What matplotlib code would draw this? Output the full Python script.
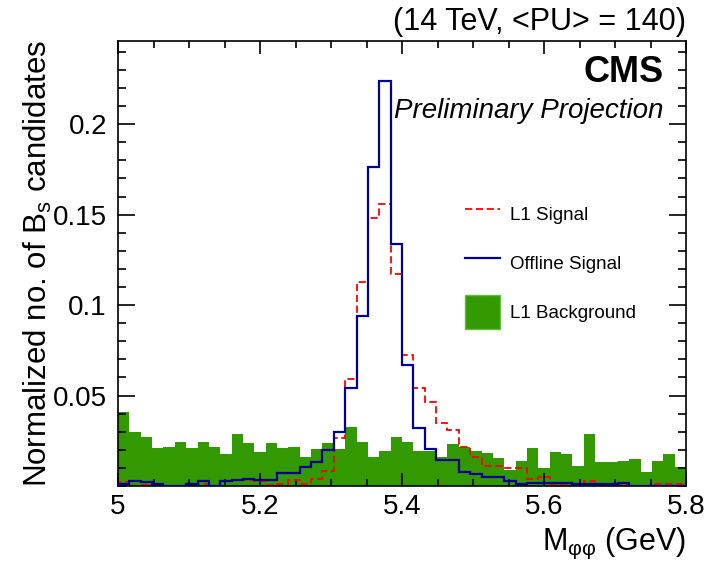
import matplotlib

matplotlib.use('Agg')
import matplotlib.pyplot as plt
from matplotlib.ticker import MultipleLocator
from matplotlib.patches import Patch
from matplotlib.lines import Line2D
import numpy as np

plt.rcParams['font.family'] = ['Liberation Sans', 'DejaVu Sans']
plt.rcParams['mathtext.fontset'] = 'custom'
plt.rcParams['mathtext.rm'] = 'Liberation Sans'
plt.rcParams['mathtext.it'] = 'Liberation Sans:italic'
plt.rcParams['mathtext.bf'] = 'Liberation Sans:bold'

# 50 bins of 16 MeV between 5.0 and 5.8 GeV
n_bins = 50
m_lo, m_hi = 5.0, 5.8

l1_background = [
    0.0410, 0.0296, 0.0270, 0.0209, 0.0215, 0.0246, 0.0209, 0.0246, 0.0217, 0.0178,
    0.0287, 0.0240, 0.0187, 0.0240, 0.0209, 0.0217, 0.0163, 0.0207, 0.0240, 0.0207,
    0.0325, 0.0246, 0.0161, 0.0191, 0.0270, 0.0246, 0.0195, 0.0195, 0.0163, 0.0230,
    0.0216, 0.0193, 0.0185, 0.0154, 0.0088, 0.0139, 0.0208, 0.0100, 0.0187, 0.0176,
    0.0108, 0.0287, 0.0132, 0.0134, 0.0139, 0.0152, 0.0078, 0.0138, 0.0176, 0.0106,
]
offline_signal = [
    0.0010, 0.0027, 0.0020, 0.0012, 0.0000, 0.0000, 0.0012, 0.0030, 0.0000, 0.0027,
    0.0032, 0.0041, 0.0035, 0.0035, 0.0073, 0.0073, 0.0104, 0.0135, 0.0198, 0.0301,
    0.0540, 0.0940, 0.1765, 0.2240, 0.1340, 0.0670, 0.0323, 0.0207, 0.0143, 0.0143,
    0.0075, 0.0066, 0.0051, 0.0051, 0.0025, 0.0010, 0.0019, 0.0019, 0.0019, 0.0019,
    0.0010, 0.0010, 0.0010, 0.0010, 0.0019, 0.0000, 0.0000, 0.0000, 0.0000, 0.0000,
]
l1_signal = [
    0.0020, 0.0000, 0.0003, 0.0000, 0.0000, 0.0000, 0.0005, 0.0010, 0.0000, 0.0027,
    0.0034, 0.0034, 0.0030, 0.0008, 0.0010, 0.0035, 0.0010, 0.0041, 0.0083, 0.0268,
    0.0590, 0.1125, 0.1480, 0.1560, 0.1170, 0.0725, 0.0544, 0.0465, 0.0351, 0.0310,
    0.0215, 0.0160, 0.0112, 0.0112, 0.0099, 0.0099, 0.0040, 0.0050, 0.0010, 0.0010,
    0.0010, 0.0027, 0.0000, 0.0010, 0.0010, 0.0000, 0.0000, 0.0010, 0.0010, 0.0010,
]

edges = np.linspace(m_lo, m_hi, n_bins + 1)

green = '#339900'
navy = '#000099'
red = '#ff0000'

fig = plt.figure(figsize=(7.07, 5.67), dpi=100)
ax = fig.add_axes([118 / 707, 1 - 486 / 567, 568 / 707, 445 / 567])

ax.stairs(l1_background, edges, fill=True, color=green, zorder=1)
ax.stairs(l1_signal, edges, color=red, lw=1.3, linestyle=(0, (4, 2)), zorder=2)
ax.stairs(offline_signal, edges, color=navy, lw=1.6, zorder=3)

ax.set_xlim(m_lo, m_hi)
ax.set_ylim(0, 0.246)

ax.xaxis.set_major_locator(MultipleLocator(0.2))
ax.xaxis.set_minor_locator(MultipleLocator(0.05))
ax.yaxis.set_major_locator(MultipleLocator(0.05))
ax.yaxis.set_minor_locator(MultipleLocator(0.01))
ax.set_xticks([5.0, 5.2, 5.4, 5.6, 5.8])
ax.set_xticklabels(['5', '5.2', '5.4', '5.6', '5.8'])
ax.set_yticks([0.05, 0.1, 0.15, 0.2])
ax.set_yticklabels(['0.05', '0.1', '0.15', '0.2'])

ax.tick_params(which='both', direction='in', top=True, right=True, width=1.2, labelsize=20)
ax.tick_params(axis='x', which='major', length=9.5, pad=6)
ax.tick_params(axis='x', which='minor', length=5)
ax.tick_params(axis='y', which='major', length=12, pad=8)
ax.tick_params(axis='y', which='minor', length=6)
for s in ax.spines.values():
    s.set_linewidth(1.2)

ax.set_xlabel(r'$\mathrm{M_{φφ}}$ (GeV)', fontsize=22, loc='right', labelpad=4)
ax.set_ylabel(r'Normalized no. of $\mathrm{B_s}$ candidates', fontsize=22.5, labelpad=-1)

ax.text(1.0, 1.01, '(14 TeV, <PU> = 140)', transform=ax.transAxes,
        ha='right', va='bottom', fontsize=22)
ax.text(0.96, 0.93, 'CMS', transform=ax.transAxes, ha='right', va='center',
        fontsize=26, fontweight='bold')
ax.text(0.96, 0.843, 'Preliminary Projection', transform=ax.transAxes,
        ha='right', va='center', fontsize=20, style='italic')

handles = [
    Line2D([], [], color=red, lw=1.3, linestyle=(0, (4, 2))),
    Line2D([], [], color=navy, lw=1.6),
    Patch(facecolor=green, edgecolor='#66bb44'),
]
ax.legend(handles, ['L1 Signal', 'Offline Signal', 'L1 Background'],
          loc='upper left', bbox_to_anchor=(0.597, 0.665), frameon=False,
          fontsize=13.5, handlelength=1.9, handleheight=2.4,
          labelspacing=0.8, handletextpad=0.5, borderaxespad=0)

fig.savefig('out.png', dpi=100)
